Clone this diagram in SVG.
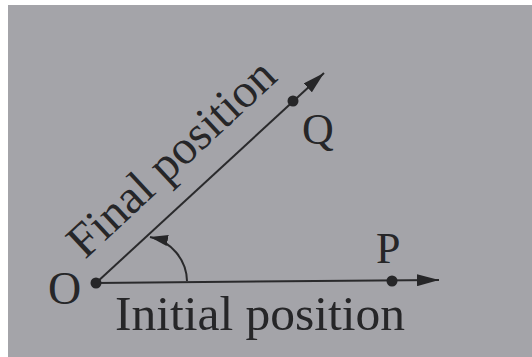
<svg xmlns="http://www.w3.org/2000/svg" width="532" height="357" viewBox="0 0 532 357">
<style>
.lbl{font-family:"Liberation Serif","Times New Roman",serif;fill:#262628}
.ln{stroke:#2a2a2c;stroke-width:2;fill:none}
.dot{fill:#262628}
</style>
<defs>
<marker id="ah" viewBox="0 0 22 12" refX="22" refY="6" markerWidth="22" markerHeight="12" markerUnits="userSpaceOnUse" orient="auto">
<path d="M0,0 L22,6 L0,12 Z" fill="#262628"/>
</marker>
<marker id="ahs" viewBox="0 0 18 11" refX="18" refY="5.5" markerWidth="18" markerHeight="11" markerUnits="userSpaceOnUse" orient="auto">
<path d="M0,0 L18,5.5 L0,11 Z" fill="#262628"/>
</marker>
</defs>
<rect x="0" y="0" width="532" height="357" fill="#ffffff"/>
<rect x="8" y="5" width="524" height="352" fill="#a4a4a9"/>
<g id="connectors">
<path class="ln" d="M96,283 L439,280" marker-end="url(#ah)"/>
<path class="ln" d="M96,283 L324,73" marker-end="url(#ah)"/>
<path class="ln" d="M187,281 A46,46 0 0 0 150,237" marker-end="url(#ahs)"/>
</g>
<g id="O">
<circle class="dot" cx="96" cy="283" r="5.5"/>
<text class="lbl" x="48" y="304" font-size="46">O</text>
</g>
<g id="P">
<circle class="dot" cx="392" cy="281" r="5.5"/>
<text class="lbl" x="376" y="263" font-size="44">P</text>
</g>
<g id="Q">
<circle class="dot" cx="293" cy="101" r="5.5"/>
<text class="lbl" x="302" y="144" font-size="44">Q</text>
</g>
<g id="final-label">
<text class="lbl" font-size="48" transform="translate(85,260) rotate(-43)">Final position</text>
</g>
<g id="initial-label">
<text class="lbl" x="115" y="330" font-size="48" textLength="290" lengthAdjust="spacingAndGlyphs">Initial position</text>
</g>
</svg>
